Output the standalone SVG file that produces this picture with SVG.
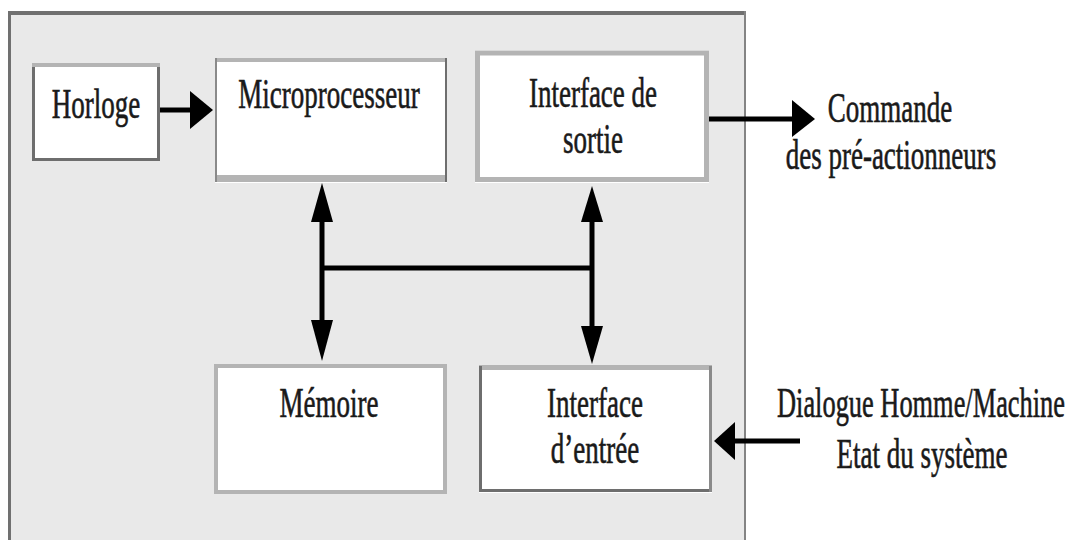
<svg xmlns="http://www.w3.org/2000/svg" width="1070" height="540" viewBox="0 0 1070 540">
  <style>
    .lbl { font-family: "Liberation Serif", "Times New Roman", serif; font-size: 27px; fill: #1a1a1a; stroke: #1a1a1a; stroke-width: 0.4px; text-anchor: middle; }
    .box { fill: #ffffff; }
    .light { stroke: #b4b4b4; fill: none; }
    .dark { stroke: #6e6e6e; fill: none; }
    .wire { stroke: #000000; stroke-width: 5; fill: none; }
    .head { fill: #000000; }
  </style>

  <rect x="0" y="0" width="1070" height="540" fill="#ffffff"/>

  <!-- system frame (open at the bottom) -->
  <g id="frame">
    <rect x="8" y="11" width="738" height="540" fill="#e9e9e9"/>
    <line x1="8" y1="13" x2="746" y2="13" stroke="#707070" stroke-width="4"/>
    <line x1="9.5" y1="11" x2="9.5" y2="540" stroke="#707070" stroke-width="3"/>
    <line x1="745" y1="11" x2="745" y2="540" stroke="#848484" stroke-width="2"/>
  </g>

  <g id="horloge">
    <rect class="box" x="32" y="63" width="128" height="98"/>
    <path class="dark" stroke-width="3" d="M33.5 64 V159.5 H158.5 V64"/>
    <line class="light" stroke-width="4" x1="32" y1="65" x2="160" y2="65"/>
    <text class="lbl" transform="translate(96 118) scale(1 1.6)">Horloge</text>
  </g>

  <g id="microprocesseur">
    <rect class="box" x="215" y="58" width="232" height="125"/>
    <path class="light" stroke-width="4" d="M217 60 H445"/>
    <path class="light" stroke-width="7" d="M215 178.5 H447"/>
    <line stroke="#8a8a8a" stroke-width="2" x1="216" y1="58" x2="216" y2="182"/>
    <line class="dark" stroke-width="2" x1="446" y1="58" x2="446" y2="182"/>
    <text class="lbl" transform="translate(329 108) scale(1 1.6)">Microprocesseur</text>
  </g>

  <g id="interface-sortie">
    <rect class="box" x="475" y="50" width="234" height="133"/>
    <rect class="light" stroke-width="5" x="477.5" y="53" width="229" height="126.5"/>
    <text class="lbl" transform="translate(593 107) scale(1 1.6)">Interface de</text>
    <text class="lbl" transform="translate(593 153) scale(1 1.6)">sortie</text>
  </g>

  <g id="memoire">
    <rect class="box" x="214" y="364" width="233" height="130"/>
    <rect class="light" stroke-width="4" x="216" y="366" width="229" height="126"/>
    <text class="lbl" transform="translate(329 417) scale(1 1.6)">Mémoire</text>
  </g>

  <g id="interface-entree">
    <rect class="box" x="479" y="365" width="233" height="128"/>
    <line class="light" stroke-width="5" x1="479" y1="367.5" x2="712" y2="367.5"/>
    <path class="dark" stroke-width="3" d="M480.5 366 V490.5 H711"/>
    <line stroke="#8a8a8a" stroke-width="3" x1="710.5" y1="366" x2="710.5" y2="492"/>
    <text class="lbl" transform="translate(595 417) scale(1 1.6)">Interface</text>
    <text class="lbl" transform="translate(595 463) scale(1 1.6)">d’entrée</text>
  </g>

  <!-- external signals -->
  <g id="commande">
    <text class="lbl" transform="translate(890 122) scale(1 1.6)">Commande</text>
    <text class="lbl" transform="translate(891 169) scale(1 1.6)">des pré-actionneurs</text>
  </g>

  <g id="dialogue">
    <text class="lbl" transform="translate(921 417) scale(1 1.6)" textLength="288" lengthAdjust="spacingAndGlyphs">Dialogue Homme/Machine</text>
    <text class="lbl" transform="translate(922 468) scale(1 1.6)">Etat du système</text>
  </g>

  <g id="connectors">
    <!-- clock to processor -->
    <line class="wire" x1="160" y1="110" x2="192" y2="110"/>
    <polygon class="head" points="190,91 213,110 190,129"/>

    <!-- bus -->
    <line class="wire" x1="322" y1="220" x2="322" y2="322"/>
    <line class="wire" x1="592" y1="220" x2="592" y2="328"/>
    <line class="wire" x1="320" y1="268" x2="594" y2="268" stroke-width="6"/>
    <polygon class="head" points="322,183 333,222 311,222"/>
    <polygon class="head" points="311,320 333,320 322,361"/>
    <polygon class="head" points="592,186 603,222 581,222"/>
    <polygon class="head" points="581,326 603,326 592,364"/>

    <!-- output to actuators -->
    <line class="wire" x1="709" y1="119" x2="794" y2="119"/>
    <polygon class="head" points="792,100 815,119 792,137"/>

    <!-- input from operator / system state -->
    <line class="wire" x1="800" y1="441" x2="733" y2="441"/>
    <polygon class="head" points="735,422 714,441 735,460"/>
  </g>
</svg>
